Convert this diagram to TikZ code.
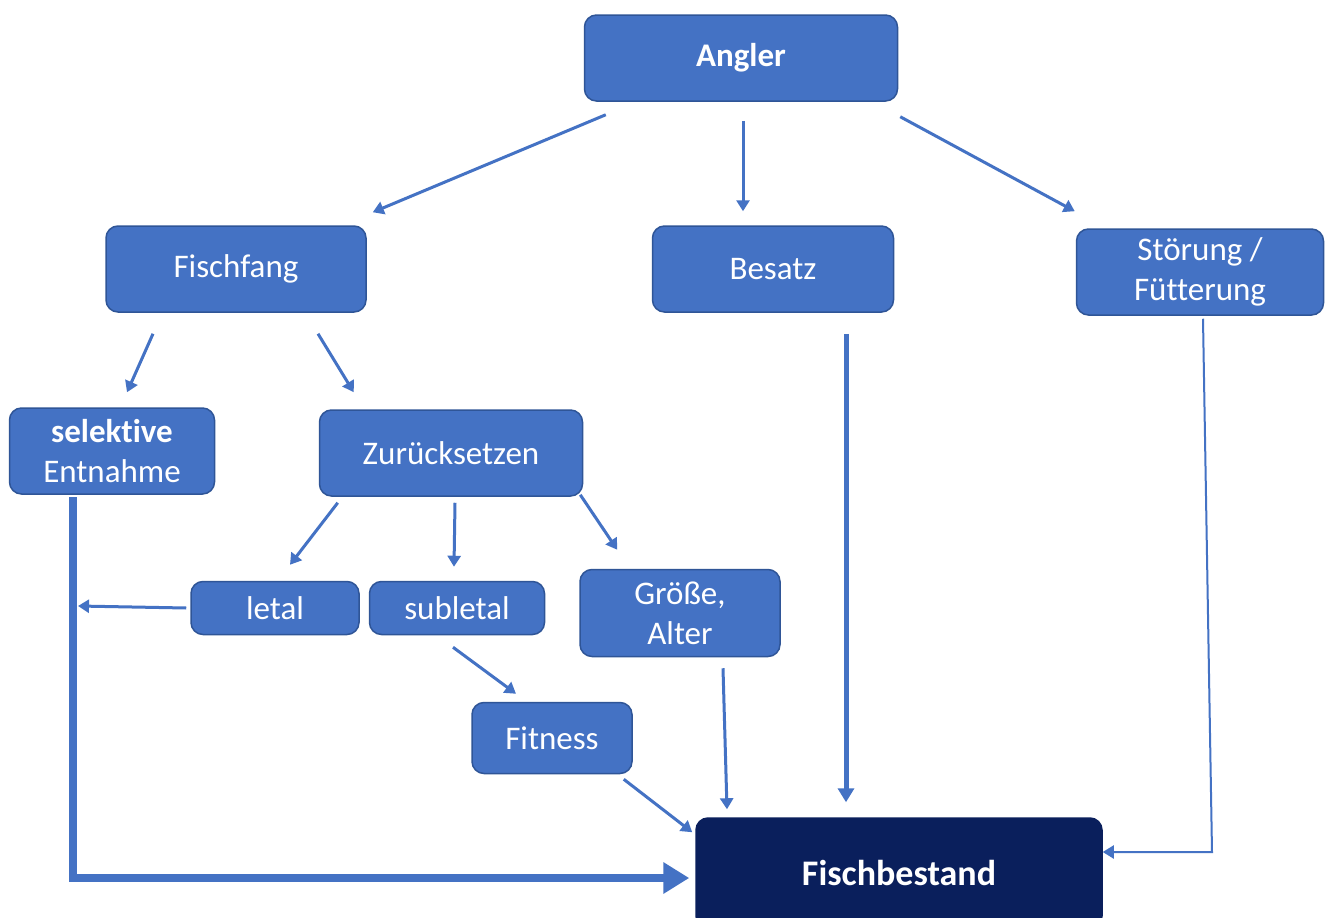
\documentclass[tikz,border=0pt]{standalone}
\usepackage{fontspec}
\setmainfont[Ligatures=NoCommon]{Carlito}
\usetikzlibrary{arrows.meta}
\definecolor{boxblue}{HTML}{4472C4}
\definecolor{boxedge}{HTML}{2F5597}
\definecolor{darkblue}{HTML}{0A1F5C}
\tikzset{
  box/.style={draw=boxedge, line width=1.5pt, fill=boxblue, rounded corners=12pt,
    text=white, align=center, font=\fontsize{33}{40}\selectfont, inner sep=0pt},
  darkbox/.style={box, fill=darkblue, draw=darkblue},
  conn/.style={draw=boxblue, line width=3pt, -{Triangle[length=11pt,width=13pt]}},
  thickconn/.style={draw=boxblue, line width=5pt, -{Triangle[length=14pt,width=16pt]}},
  heavyconn/.style={draw=boxblue, line width=8pt, -{Triangle[length=26pt,width=30pt]}},
}
\begin{document}
\begin{tikzpicture}[x=1pt,y=-1pt]
\useasboundingbox (0,0) rectangle (1326,918);
\fill[white] (0,0) rectangle (1326,918);

\node[box, minimum width=313pt, minimum height=86pt] (angler) at (741,58) {\textbf{Angler}};
\node[box, minimum width=260pt, minimum height=86pt] (fang) at (236,269) {Fischfang};
\node[box, minimum width=241pt, minimum height=86pt] (besatz) at (773,269) {Besatz};
\node[box, minimum width=247pt, minimum height=86pt] (stoer) at (1200,272) {Störung /\\Fütterung};
\node[box, minimum width=205pt, minimum height=86pt] (sel) at (112,451) {\textbf{selektive}\\Entnahme};
\node[box, minimum width=263pt, minimum height=86pt] (zur) at (451,453) {Zurücksetzen};
\node[box, minimum width=168pt, minimum height=53pt] (letal) at (275,608) {letal};
\node[box, minimum width=175pt, minimum height=53pt] (sub) at (457,608) {subletal};
\node[box, minimum width=200pt, minimum height=87pt] (groesse) at (680,613) {Größe,\\Alter};
\node[box, minimum width=160pt, minimum height=71pt] (fit) at (552,738) {Fitness};
\node[darkbox, minimum width=406pt, minimum height=110pt, font=\fontsize{36}{40}\selectfont\bfseries] (bestand) at (899,873) {Fischbestand};

\coordinate (selbot) at (73,497);
\coordinate (corner) at (73,878);
\coordinate (letalhit) at (78,606);
\coordinate (stoerbend) at (1212,852);

\draw[conn] ([xshift=22pt,yshift=-13pt]angler.south west) -- ([xshift=6pt,yshift=13pt]fang.north east);
\draw[conn] ([xshift=2pt,yshift=-19pt]angler.south) -- ([xshift=-30pt,yshift=14pt]besatz.north);
\draw[conn] ([xshift=2pt,yshift=-15pt]angler.south east) -- ([xshift=-1pt,yshift=17pt]stoer.north west);

\draw[conn] ([xshift=-83pt,yshift=-21pt]fang.south) -- ([xshift=15pt,yshift=15pt]sel.north);
\draw[conn] ([xshift=82pt,yshift=-21pt]fang.south) -- ([xshift=35pt,yshift=17pt]zur.north west);

\draw[conn] ([xshift=19pt,yshift=-6pt]zur.south west) -- ([xshift=15pt,yshift=16pt]letal.north);
\draw[conn] ([xshift=4pt,yshift=-6pt]zur.south) -- ([xshift=-3pt,yshift=14pt]sub.north);
\draw[conn] ([xshift=-3pt,yshift=2pt]zur.south east) -- ([xshift=38pt,yshift=19pt]groesse.north west);

\draw[conn] ([xshift=-4pt]letal.west) -- (letalhit);
\draw[conn] ([xshift=-4pt,yshift=-12pt]sub.south) -- ([xshift=-36pt,yshift=8pt]fit.north);
\draw[conn] ([xshift=-9pt,yshift=-5pt]fit.south east) -- ([xshift=-3pt,yshift=-15pt]bestand.north west);
\draw[conn] ([xshift=43pt,yshift=-11pt]groesse.south) -- ([xshift=-172pt,yshift=8pt]bestand.north);

\draw[thickconn] ([xshift=73pt,yshift=-21pt]besatz.south) -- ([xshift=-53pt,yshift=15pt]bestand.north);
\draw[conn, line width=2pt] ([xshift=3pt,yshift=-3pt]stoer.south) -- (stoerbend) -- ([yshift=21pt]bestand.east);

\draw[heavyconn] (selbot) -- (corner) -- ([xshift=-6pt,yshift=-5pt]bestand.west);
\end{tikzpicture}
\end{document}
